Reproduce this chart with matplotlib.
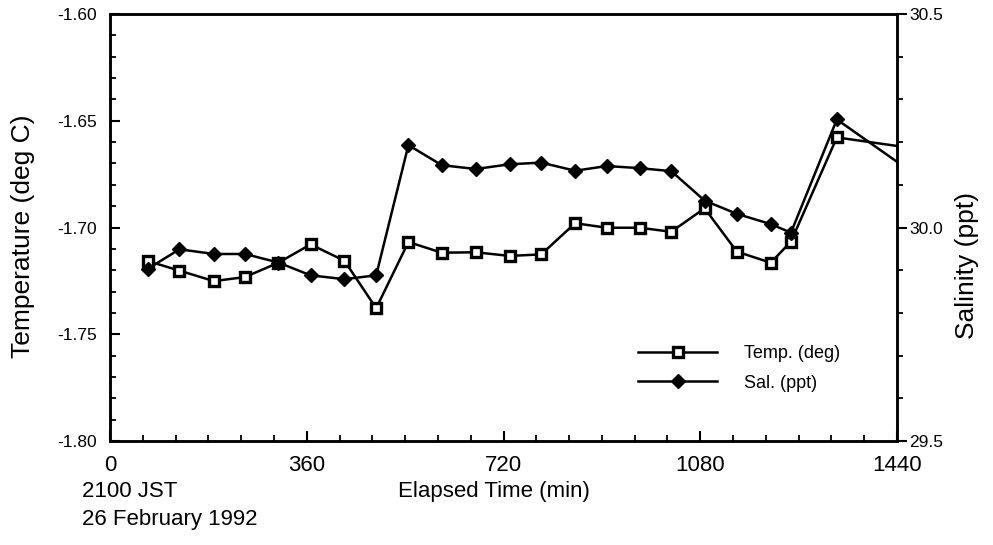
import matplotlib
matplotlib.use('Agg')
import matplotlib.pyplot as plt
from matplotlib.ticker import MultipleLocator, FixedLocator

plt.rcParams['font.family'] = ['Liberation Sans', 'DejaVu Sans']

# 経過時間(min) 最後の点は右端で切れている線の延長
elapsed_min = [69, 127, 190, 247, 308, 367, 429, 487, 546, 607, 669, 731, 789,
               851, 909, 969, 1027, 1088, 1147, 1209, 1246, 1330, 1440]
temp_deg = [-1.7157, -1.7202, -1.7251, -1.7232, -1.7165, -1.7079, -1.7156,
            -1.7378, -1.7068, -1.7118, -1.7116, -1.7133, -1.7126, -1.6980,
            -1.7001, -1.7001, -1.7020, -1.6910, -1.7113, -1.7165, -1.7066,
            -1.6578, -1.6618]
sal_ppt = [29.903, 29.949, 29.938, 29.938, 29.918, 29.888, 29.879, 29.888,
           30.193, 30.146, 30.137, 30.148, 30.152, 30.133, 30.144, 30.139,
           30.132, 30.063, 30.032, 30.008, 29.988, 30.253, 30.154]

x_ticks = [0, 360, 720, 1080, 1440]
t_ticks = [-1.80, -1.75, -1.70, -1.65, -1.60]
s_ticks = [29.5, 30.0, 30.5]

fig = plt.figure(figsize=(9.93, 5.45), dpi=100)
ax = fig.add_axes([0.1108, 0.1908, 0.7925, 0.7835])
ax2 = ax.twinx()

lw = 1.8
ln1, = ax.plot(elapsed_min, temp_deg, color='black', lw=lw, marker='s',
               markersize=6.8, markerfacecolor='white', markeredgecolor='black',
               markeredgewidth=2.4, markevery=slice(0, -1), label='Temp. (deg)')
ln2, = ax2.plot(elapsed_min, sal_ppt, color='black', lw=lw, marker='D',
                markersize=6.8, markerfacecolor='black', markeredgecolor='black',
                markevery=slice(0, -1), label='Sal. (ppt)')

ax.set_xlim(0, 1440)
ax.set_ylim(-1.80, -1.60)
ax2.set_ylim(29.5, 30.5)

ax.xaxis.set_major_locator(FixedLocator(x_ticks))
ax.xaxis.set_minor_locator(MultipleLocator(60))
ax.yaxis.set_major_locator(FixedLocator(t_ticks))
ax.yaxis.set_minor_locator(MultipleLocator(0.01))
ax2.yaxis.set_major_locator(FixedLocator(s_ticks))
ax2.yaxis.set_minor_locator(MultipleLocator(0.1))

ax.set_xticklabels([str(v) for v in x_ticks])
ax.set_yticklabels(['%.2f' % v for v in t_ticks])
ax2.set_yticklabels(['%.1f' % v for v in s_ticks])

ax.tick_params(axis='both', which='major', direction='in', length=7, width=1.5,
               top=False, right=False)
ax.tick_params(axis='both', which='minor', direction='in', length=4, width=1.3,
               top=False, right=False)
ax.tick_params(axis='x', labelsize=16, pad=10)
ax.tick_params(axis='y', labelsize=12.5, pad=9.5)
ax2.tick_params(axis='y', which='major', direction='out', length=7, width=1.5,
                labelsize=12.5, pad=2)
ax2.tick_params(axis='y', which='minor', direction='out', length=4, width=1.3)

for a in (ax, ax2):
    for s in a.spines.values():
        s.set_linewidth(1.8)

ax.set_ylabel('Temperature (deg C)', fontsize=19)
ax.yaxis.set_label_coords(-0.095, 0.48)
ax2.set_ylabel('Salinity (ppt)', fontsize=19)
ax2.yaxis.set_label_coords(1.074, 0.41)

fig.text(0.497, 0.099, 'Elapsed Time (min)', fontsize=16, ha='center', va='center')
fig.text(0.083, 0.099, '2100 JST', fontsize=16, ha='left', va='center')
fig.text(0.083, 0.047, '26 February 1992', fontsize=16, ha='left', va='center')

fig.legend(handles=[ln1, ln2], loc='upper left', bbox_to_anchor=(0.626, 0.397),
           frameon=False, fontsize=13, handlelength=4.4, handletextpad=1.5,
           labelspacing=0.7)

fig.savefig('out.png', dpi=100)
